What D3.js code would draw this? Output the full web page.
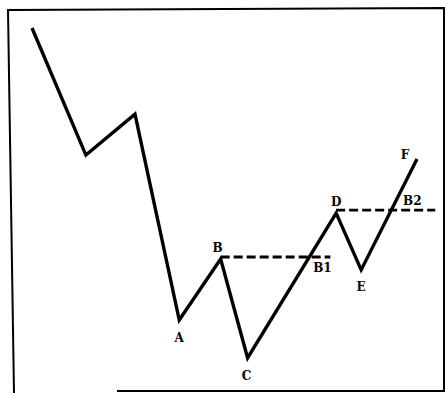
<!DOCTYPE html>
<html><head><meta charset="utf-8">
<script src="https://cdn.jsdelivr.net/npm/d3@7"></script>
<style>body{margin:0;background:#fff}svg{display:block}</style>
</head><body>
<script>
// Price path (time, price) in arbitrary units
const times  = [0, 5.6, 10.7, 15.3, 19.6, 22.4, 31.6, 34.2, 40];
const prices = [100, 61.5, 73.9, 11.5, 30, 0, 43.9, 26.7, 60.3];
const labels = ["", "", "", "A", "B", "C", "D", "E", "F"];
// Breakout levels
const levelNames = ["B1", "B2"];
const levelValues = [30.6, 44.8];
const levelStart = [19.6, 31.6];
const levelEnd = [31.0, 41.9];

const W = 445, H = 394;
const svg = d3.select("body").append("svg").attr("width", W).attr("height", H);
const x = d3.scaleLinear().domain([0, 40]).range([32, 417]);
const y = d3.scaleLinear().domain([0, 100]).range([358, 28]);

// frame
svg.append("path").attr("d", "M14,393 L8,10 L444,8 L444,391 L117,391")
  .attr("fill", "none").attr("stroke", "#000").attr("stroke-width", 2);

const pts = times.map((t, i) => [t, prices[i]]);
svg.append("path").datum(pts)
  .attr("d", d3.line().x(d => x(d[0])).y(d => y(d[1])))
  .attr("fill", "none").attr("stroke", "#000").attr("stroke-width", 3.4)
  .attr("stroke-linejoin", "miter");

levelValues.forEach((v, i) => {
  svg.append("line")
    .attr("x1", x(levelStart[i])).attr("x2", x(levelEnd[i]))
    .attr("y1", y(v)).attr("y2", y(v))
    .attr("stroke", "#000").attr("stroke-width", 2.8)
    .attr("stroke-dasharray", "9,4");
});

const font = "'DejaVu Serif', serif";
const lab = svg.append("g").attr("font-family", font).attr("font-weight", "bold")
  .attr("font-size", 12).attr("text-anchor", "middle");
const off = {A:[0,22], B:[-3,-7], C:[-1,22], D:[0,-7], E:[0,21], F:[-12,0]};
labels.forEach((l, i) => {
  if (!l) return;
  lab.append("text").attr("x", x(times[i]) + off[l][0]).attr("y", y(prices[i]) + off[l][1]).text(l);
});
const lvOff = [[-8, 15], [-23, -5]];
levelNames.forEach((n, i) => {
  lab.append("text").attr("x", x(levelEnd[i]) + lvOff[i][0]).attr("y", y(levelValues[i]) + lvOff[i][1]).text(n);
});
</script>
</body></html>
